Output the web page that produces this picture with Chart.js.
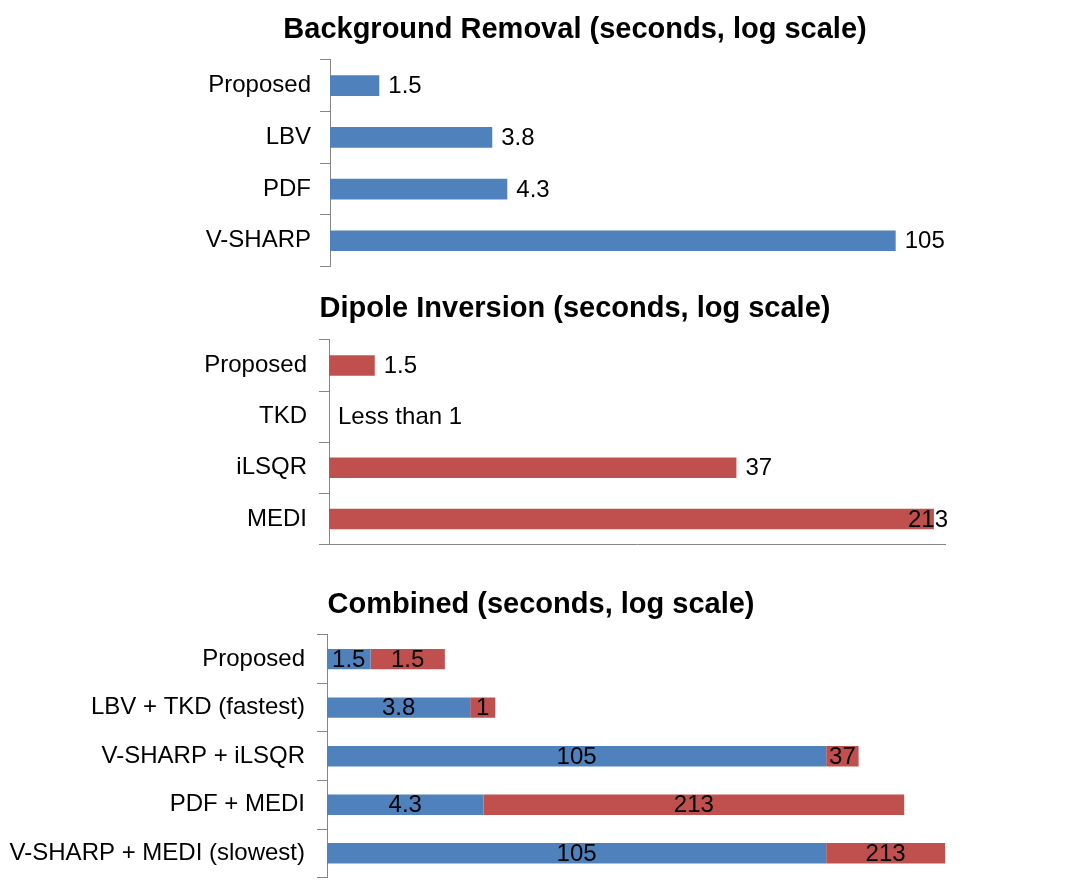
<!DOCTYPE html>
<html>
<head>
<meta charset="utf-8">
<script src="https://cdn.jsdelivr.net/npm/chart.js@4.4.1/dist/chart.umd.min.js"></script>
<style>
body { margin: 0; background: #fff; width: 1082px; height: 892px; overflow: hidden; position: relative; }
.box { position: absolute; left: 0; width: 1082px; }
</style>
</head>
<body>
<div class="box" style="top:0;height:290px"><canvas id="bgChart"></canvas></div>
<div class="box" style="top:280px;height:291px"><canvas id="dipChart"></canvas></div>
<div class="box" style="top:560px;height:344px"><canvas id="combChart"></canvas></div>
<script>
// values (seconds)
const bgLabels = ['Proposed', 'LBV', 'PDF', 'V-SHARP'];
const bgValues = [1.5, 3.8, 4.3, 105];

const dipLabels = ['Proposed', 'TKD', 'iLSQR', 'MEDI'];
const dipValues = [1.5, null, 37, 213];
const dipNotes = ['', 'Less than 1', '', ''];

const combLabels = ['Proposed', 'LBV + TKD (fastest)', 'V-SHARP + iLSQR', 'PDF + MEDI', 'V-SHARP + MEDI (slowest)'];
const combBg = [1.5, 3.8, 105, 4.3, 105];
const combDip = [1.5, 1, 37, 213, 213];

const BLUE = '#4F81BD';
const RED = '#C0504D';
const GREY = '#868686';

Chart.defaults.font.family = "'Liberation Sans', Arial, sans-serif";
Chart.defaults.color = '#000';

// value labels next to / inside the bars
const valueLabels = {
    id: 'valueLabels',
    afterDatasetsDraw(chart, args, opts) {
        const ctx = chart.ctx;
        const area = chart.chartArea;
        const yScale = chart.scales.y;
        ctx.save();
        ctx.font = "24px 'Liberation Sans', Arial, sans-serif";
        ctx.fillStyle = '#000';
        ctx.textBaseline = 'middle';
        chart.data.datasets.forEach((ds, i) => {
            const meta = chart.getDatasetMeta(i);
            meta.data.forEach((bar, j) => {
                const v = ds.data[j];
                const y = yScale.getPixelForValue(j) + 1;
                if (opts.inside) {
                    ctx.textAlign = 'center';
                    ctx.fillText(String(v), (bar.x + bar.base) / 2, y);
                    return;
                }
                const text = v == null ? (opts.notes ? opts.notes[j] : '') : String(v);
                if (!text) return;
                const x0 = v == null ? area.left : bar.x;
                const w = ctx.measureText(text).width;
                let x = x0 + 9;
                if (x + w > area.right + 3) x = area.right + 3 - w;
                ctx.textAlign = 'left';
                ctx.fillText(text, x, y);
            });
        });
        ctx.restore();
    }
};

function makeOptions(title, titlePad, axisW, labelPad, xMax, stacked, bottomLine, padding, labelOpts) {
    return {
        indexAxis: 'y',
        responsive: true,
        maintainAspectRatio: false,
        animation: false,
        layout: { padding: padding },
        plugins: {
            legend: { display: false },
            tooltip: { enabled: false },
            title: {
                display: true,
                text: title,
                color: '#000',
                font: { size: 29, weight: 'bold' },
                padding: titlePad
            },
            valueLabels: labelOpts
        },
        scales: {
            x: {
                type: 'logarithmic',
                min: 1,
                max: xMax,
                stacked: stacked,
                display: bottomLine,
                grid: { display: false },
                ticks: { display: false },
                border: { display: bottomLine, color: GREY, width: 1 },
                afterFit: function (s) { s.height = 0; }
            },
            y: {
                stacked: stacked,
                grid: { display: true, drawOnChartArea: false, drawTicks: true, tickLength: 10, color: GREY, offset: true },
                border: { display: true, color: GREY, width: 1 },
                ticks: { color: '#000', font: { size: 24 }, padding: labelPad },
                afterFit: function (s) { s.width = axisW; }
            }
        }
    };
}

new Chart('bgChart', {
    type: 'bar',
    data: {
        labels: bgLabels,
        datasets: [{
            data: bgValues,
            backgroundColor: BLUE,
            barPercentage: 0.4,
            categoryPercentage: 1.0
        }]
    },
    options: makeOptions('Background Removal (seconds, log scale)', { top: 13, bottom: 12 }, 154, 9, 200, false, false,
        { left: 176, right: 108, top: 0, bottom: 0 }, {}),
    plugins: [valueLabels]
});

new Chart('dipChart', {
    type: 'bar',
    data: {
        labels: dipLabels,
        datasets: [{
            data: dipValues,
            backgroundColor: RED,
            barPercentage: 0.4,
            categoryPercentage: 1.0
        }]
    },
    options: makeOptions('Dipole Inversion (seconds, log scale)', { top: 12, bottom: 13 }, 124, 12, 235, false, true,
        { left: 205, right: 137, top: 0, bottom: 0 }, { notes: dipNotes }),
    plugins: [valueLabels]
});

new Chart('combChart', {
    type: 'bar',
    data: {
        labels: combLabels,
        datasets: [
            {
                data: combBg,
                backgroundColor: BLUE,
                barPercentage: 0.42,
                categoryPercentage: 1.0
            },
            {
                data: combDip,
                backgroundColor: RED,
                barPercentage: 0.42,
                categoryPercentage: 1.0
            }
        ]
    },
    options: makeOptions('Combined (seconds, log scale)', { top: 28, bottom: 12 }, 327, 12, 1140, true, false,
        { left: 0, right: 0, top: 0, bottom: 0 }, { inside: true }),
    plugins: [valueLabels]
});
</script>
</body>
</html>
